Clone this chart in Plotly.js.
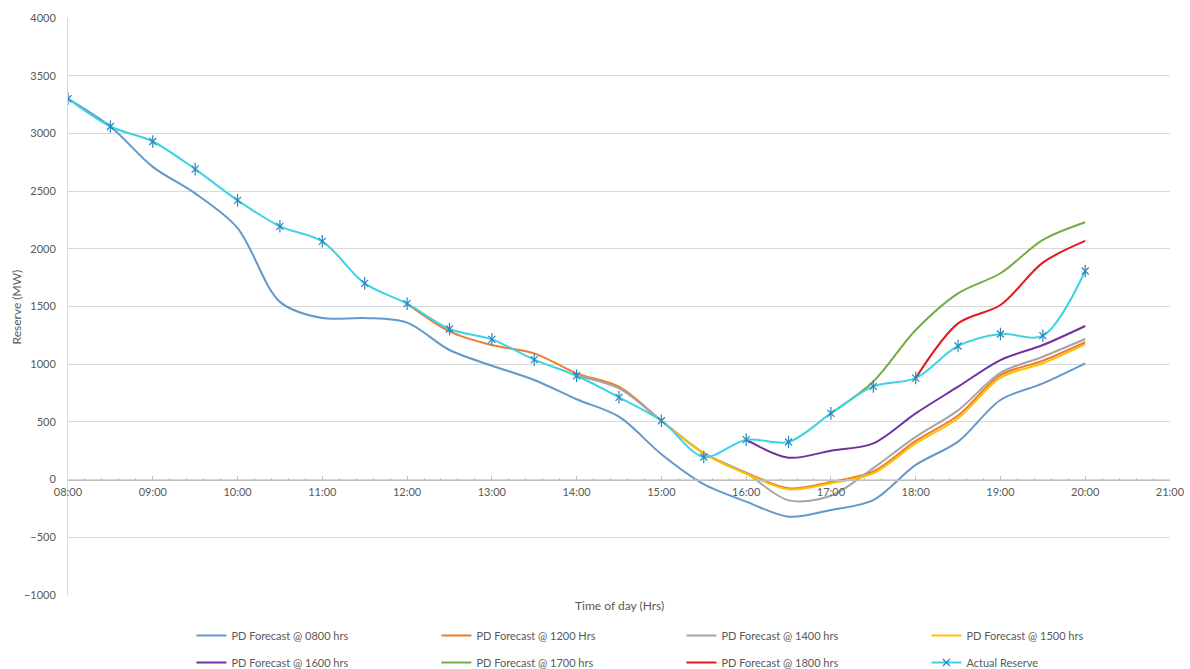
<!DOCTYPE html>
<html>
<head>
<meta charset="utf-8">
<script src="https://cdn.plot.ly/plotly-3.0.1.min.js"></script>
<style>
  html, body { margin: 0; padding: 0; background: #fff; }
  #chart { width: 1190px; height: 669px; }
</style>
</head>
<body>
<div id="chart"></div>
<script>
// Half-hourly time points (decimal hours)
const hours = [8, 8.5, 9, 9.5, 10, 10.5, 11, 11.5, 12, 12.5, 13, 13.5, 14,
               14.5, 15, 15.5, 16, 16.5, 17, 17.5, 18, 18.5, 19, 19.5, 20];

// Axis ticks
const hourTicks = [8, 9, 10, 11, 12, 13, 14, 15, 16, 17, 18, 19, 20, 21];
const hourLabels = ['08:00', '09:00', '10:00', '11:00', '12:00', '13:00', '14:00',
                    '15:00', '16:00', '17:00', '18:00', '19:00', '20:00', '21:00'];

// Reserve (MW) series
const pd0800 = [3300, 3060, 2710, 2480, 2180, 1540, 1400, 1400, 1360, 1123, 987, 863, 696,
                545, 220, -40, -191, -321, -263, -177, 127, 329, 690, 834, 1008];
const pd1200 = [null, null, null, null, null, null, null, null, 1525, 1285, 1166, 1094, 921,
                805, 510, 230, 60, -75, -20, 70, 335, 555, 905, 1030, 1190];
const pd1400 = [null, null, null, null, null, null, null, null, null, null, null, null, 900,
                790, 510, 230, 55, -180, -140, 100, 370, 600, 925, 1065, 1218];
const pd1500 = [null, null, null, null, null, null, null, null, null, null, null, null, null,
                null, 510, 225, 50, -84, -32, 55, 314, 531, 883, 1008, 1172];
const pd1600 = [null, null, null, null, null, null, null, null, null, null, null, null, null,
                null, null, null, 346, 190, 250, 314, 574, 805, 1036, 1166, 1331];
const pd1700 = [null, null, null, null, null, null, null, null, null, null, null, null, null,
                null, null, null, null, null, 574, 850, 1296, 1614, 1788, 2077, 2230];
const pd1800 = [null, null, null, null, null, null, null, null, null, null, null, null, null,
                null, null, null, null, null, null, null, 880, 1354, 1513, 1880, 2068];
const actual = [3300, 3060, 2930, 2690, 2420, 2195, 2065, 1700, 1525, 1305, 1215, 1040, 900,
                713, 510, 196, 346, 326, 574, 808, 880, 1158, 1262, 1247, 1808];

const seriesNames = ['PD Forecast @ 0800 hrs', 'PD Forecast @ 1200 Hrs', 'PD Forecast @ 1400 hrs',
                     'PD Forecast @ 1500 hrs', 'PD Forecast @ 1600 hrs', 'PD Forecast @ 1700 hrs',
                     'PD Forecast @ 1800 hrs', 'Actual Reserve'];
const seriesColors = ['#6498C9', '#ED7D31', '#A5A5A5', '#FFC000', '#7030A0', '#70AD47', '#E3171C', '#3DD3E5'];
const forecasts = [pd0800, pd1200, pd1400, pd1500, pd1600, pd1700, pd1800];

const FONT = 'Lato, "Open Sans", sans-serif';
const TXT = '#595959';

const traces = forecasts.map((ys, i) => ({
  type: 'scatter',
  mode: 'lines',
  x: hours,
  y: ys,
  name: seriesNames[i],
  legend: i < 4 ? 'legend' : 'legend2',
  line: { color: seriesColors[i], width: 2, shape: 'spline', smoothing: 0.9 },
  connectgaps: false
}));

// Actual reserve with star markers (X plus vertical stroke)
traces.push({
  type: 'scatter',
  mode: 'lines+markers',
  x: hours,
  y: actual,
  name: seriesNames[7],
  legend: 'legend2',
  line: { color: seriesColors[7], width: 2, shape: 'spline', smoothing: 0.9 },
  marker: { symbol: 'x-thin-open', size: 7, color: '#2A86C0', line: { color: '#2A86C0', width: 1.2 } }
});
traces.push({
  type: 'scatter',
  mode: 'markers',
  x: hours,
  y: actual,
  showlegend: false,
  hoverinfo: 'skip',
  marker: { symbol: 'line-ns-open', size: 9, color: '#2A86C0', line: { color: '#2A86C0', width: 1.2 } }
});

const legendBase = {
  orientation: 'h',
  x: 0.112,
  xanchor: 'left',
  yref: 'container',
  yanchor: 'top',
  entrywidth: 200,
  entrywidthmode: 'pixels',
  font: { family: FONT, size: 11, color: TXT },
  bgcolor: 'rgba(0,0,0,0)',
  itemclick: false,
  itemdoubleclick: false
};

const layout = {
  width: 1190,
  height: 669,
  margin: { l: 68, r: 20, t: 18, b: 74 },
  paper_bgcolor: '#ffffff',
  plot_bgcolor: '#ffffff',
  font: { family: FONT, size: 11, color: TXT },
  showlegend: true,
  xaxis: {
    type: 'linear',
    range: [8, 21],
    anchor: 'free',
    position: 0.2,
    tickvals: hourTicks,
    ticktext: hourLabels,
    ticks: 'inside',
    ticklen: 4,
    tickcolor: '#BFBFBF',
    showgrid: false,
    zeroline: false,
    showline: true,
    linecolor: '#BFBFBF',
    linewidth: 1,
    ticklabelstandoff: 2,
    tickfont: { family: FONT, size: 11, color: TXT },
    minor: { dtick: 0.2, tick0: 8, ticks: 'inside', ticklen: 2, tickcolor: '#BFBFBF', showgrid: false },
    fixedrange: true
  },
  yaxis: {
    range: [-1000, 4000],
    dtick: 500,
    tick0: 0,
    showgrid: true,
    gridcolor: '#D9D9D9',
    gridwidth: 1,
    zeroline: false,
    showline: true,
    linecolor: '#D9D9D9',
    ticks: '',
    ticklabelstandoff: 9,
    tickfont: { family: FONT, size: 11, color: TXT },
    fixedrange: true
  },
  legend: Object.assign({}, legendBase, { y: 0.0717 }),
  legend2: Object.assign({}, legendBase, { y: 0.0314 }),
  annotations: [
    {
      text: 'Time of day (Hrs)',
      xref: 'paper', yref: 'paper',
      x: 0.5, y: -0.018,
      xanchor: 'center', yanchor: 'middle',
      showarrow: false,
      font: { family: FONT, size: 12, color: TXT }
    },
    {
      text: 'Reserve (MW)',
      xref: 'paper', yref: 'paper',
      x: -0.0463, y: 0.5,
      xanchor: 'center', yanchor: 'middle',
      textangle: -90,
      showarrow: false,
      font: { family: FONT, size: 12, color: TXT }
    }
  ]
};

Plotly.newPlot('chart', traces, layout, { displayModeBar: false, staticPlot: true });
</script>
</body>
</html>
